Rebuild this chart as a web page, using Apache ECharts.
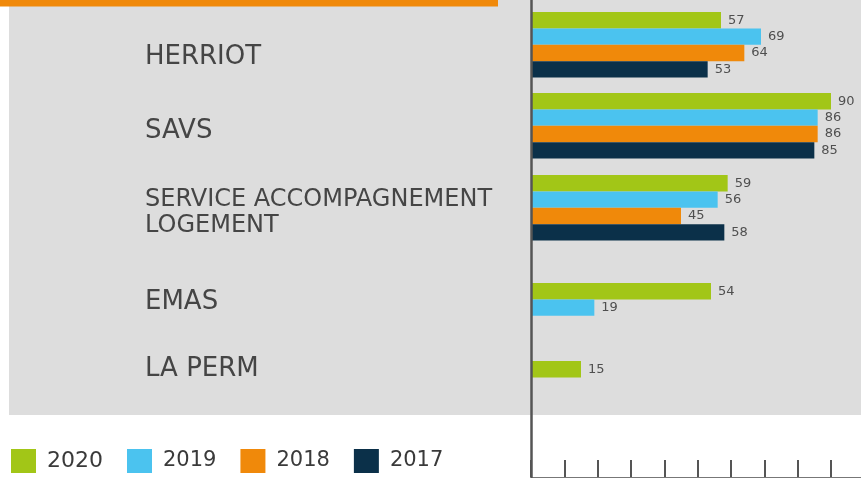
<!DOCTYPE html>
<html>
<head>
<meta charset="utf-8">
<title>Services</title>
<script src="https://cdn.jsdelivr.net/npm/echarts@6/dist/echarts.min.js"></script>
<style>
  html, body { margin: 0; padding: 0; background: #fff; }
  #chart { width: 861px; height: 478px; }
</style>
</head>
<body>
<div id="chart"></div>
<script>
// données
var categories = ["HERRIOT", "SAVS", "SERVICE ACCOMPAGNEMENT\nLOGEMENT", "EMAS", "LA PERM"]
var years = ["2020", "2019", "2018", "2017"]
var values2020 = [57, 90, 59, 54, 15]
var values2019 = [69, 86, 56, 19, null]
var values2018 = [64, 86, 45, null, null]
var values2017 = [53, 85, 58, null, null]
var xTicks = [0, 10, 20, 30, 40, 50, 60, 70, 80, 90]
var xMin = 0
var xMax = 99 // l'axe est coupé au bord droit

// mise en page (pas des données)
var colors = ["#a2c617", "#4bc3ef", "#f0890a", "#0b3049"]
var groupTop = [12, 93, 175, 283, 361]
var labelY = [57, 131, 213, 302, 369]
var labelSize = [26, 26, 24, 26, 26]
var barH = 16.4
var plotLeft = 531
var plotWidth = 330
var font = "DejaVu Sans"

var myChart = echarts.init(document.getElementById("chart"), null, { renderer: "canvas" })

var valuesByYear = [values2020, values2019, values2018, values2017]
var grid = []
var xAxis = []
var yAxis = []
var series = []

categories.forEach(function (cat, g) {
  // années présentes pour ce groupe
  var present = years.filter(function (y, i) {
    return valuesByYear[i][g] != null
  })
  grid.push({ left: plotLeft, width: plotWidth, top: groupTop[g], height: present.length * barH })
  xAxis.push({ gridIndex: g, type: "value", min: xMin, max: xMax, show: false })
  yAxis.push({ gridIndex: g, type: "category", data: present, inverse: true, show: false })
  years.forEach(function (y, i) {
    var v = valuesByYear[i][g]
    if (v == null) return
    series.push({
      name: y,
      type: "bar",
      xAxisIndex: g,
      yAxisIndex: g,
      stack: "g" + g,
      barCategoryGap: "0%",
      itemStyle: { color: colors[i] },
      label: {
        show: true,
        position: "right",
        distance: 7,
        color: "#4f4f4f",
        fontSize: 13,
        fontFamily: font,
      },
      data: present.map(function (p) {
        return p === y ? v : "-"
      }),
    })
  })
})

// grille du cadre : axe vertical + graduations du bas
var frame = categories.length
grid.push({ left: plotLeft, width: plotWidth, top: 0, bottom: 1 })
xAxis.push({
  gridIndex: frame,
  type: "value",
  min: xMin,
  max: xMax,
  axisLine: { show: true, lineStyle: { color: "#777", width: 1 } },
  axisTick: {
    show: true,
    inside: true,
    length: 17,
    customValues: xTicks,
    lineStyle: { color: "#555", width: 2 },
  },
  axisLabel: { show: false },
  splitLine: { show: false },
})
yAxis.push({
  gridIndex: frame,
  type: "value",
  min: 0,
  max: 1,
  z: 10,
  axisLine: { show: true, lineStyle: { color: "#555", width: 2.5 } },
  axisTick: { show: false },
  axisLabel: { show: false },
  splitLine: { show: false },
})

// fond gris, bandeau orange, libellés des groupes
var graphic = [
  { type: "rect", z: -10, shape: { x: 9, y: 0, width: 852, height: 415 }, style: { fill: "#dddddd" } },
  { type: "rect", z: -5, shape: { x: 0, y: 0, width: 498, height: 6.5 }, style: { fill: "#f0890a" } },
]
categories.forEach(function (cat, g) {
  graphic.push({
    type: "text",
    z: 5,
    x: 145,
    y: labelY[g],
    style: {
      text: cat,
      fill: "#454545",
      font: labelSize[g] + 'px "' + font + '"',
      lineHeight: 26,
      textAlign: "left",
      textVerticalAlign: "middle",
    },
  })
})

var option = {
  animation: false,
  grid: grid,
  xAxis: xAxis,
  yAxis: yAxis,
  graphic: graphic,
  legend: {
    data: years,
    left: 11,
    top: 449,
    padding: 0,
    icon: "rect",
    itemWidth: 25,
    itemHeight: 24,
    itemGap: 24,
    selectedMode: false,
    formatter: function (name) {
      return name === "2020" ? "{b|" + name + "}" : "{a|" + name + "}"
    },
    textStyle: {
      color: "#3a3a3a",
      fontFamily: font,
      rich: {
        a: { fontSize: 21, fontFamily: font, color: "#3a3a3a", padding: [0, 0, 0, 6] },
        b: { fontSize: 22, fontFamily: font, color: "#3a3a3a", padding: [0, 0, 0, 6] },
      },
    },
  },
  series: series,
}

myChart.setOption(option)
</script>
</body>
</html>
